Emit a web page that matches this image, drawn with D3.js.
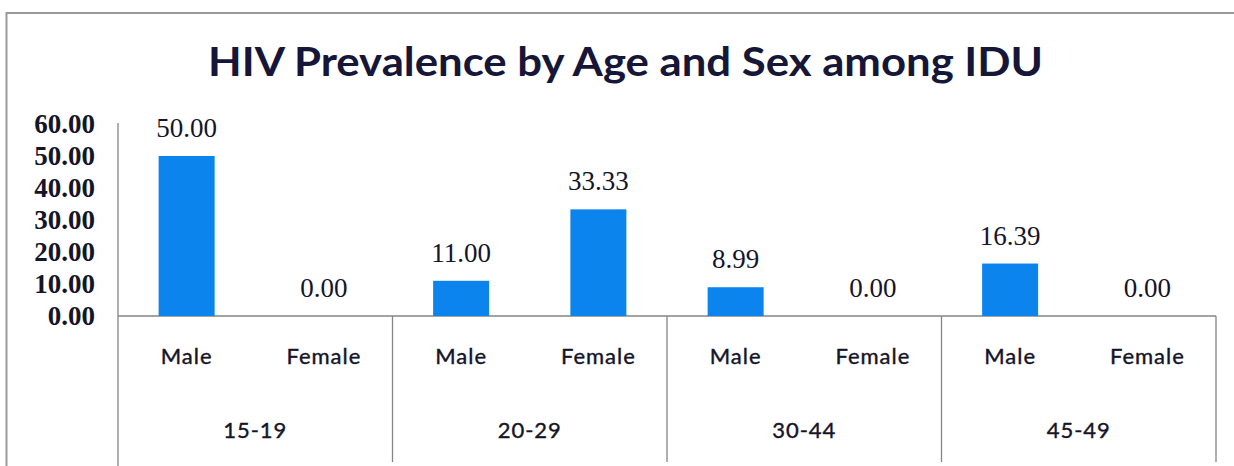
<!DOCTYPE html>
<html>
<head>
<meta charset="utf-8">
<script src="https://cdn.jsdelivr.net/npm/d3@7"></script>
<style>
  html, body { margin: 0; padding: 0; background: #fff; }
  svg { display: block; }
</style>
</head>
<body>
<svg id="chart" width="1234" height="466"></svg>
<script>
const title = "HIV Prevalence by Age and Sex among IDU";
const ageGroups = ["15-19", "20-29", "30-44", "45-49"];
const sexes = ["Male", "Female"];
const maleValues = [50.00, 11.00, 8.99, 16.39];
const femaleValues = [0.00, 33.33, 0.00, 0.00];
const yTicks = [0, 10, 20, 30, 40, 50, 60];

const data = [];
ageGroups.forEach((g, i) => {
  data.push({ group: g, sex: "Male", value: maleValues[i] });
  data.push({ group: g, sex: "Female", value: femaleValues[i] });
});

const svg = d3.select("#chart");
const textColor = "#15152a";
const lineColor = "#858585";
const barColor = "#0b84ee";

// outer frame
svg.append("path")
  .attr("d", "M6.5,466 L6.5,13 L1234,13")
  .attr("fill", "none")
  .attr("stroke", "#9a9a9a")
  .attr("stroke-width", 2);

// title
svg.append("text")
  .attr("x", 625.5)
  .attr("y", 76)
  .attr("text-anchor", "middle")
  .attr("font-family", "Lato, 'Open Sans', sans-serif")
  .attr("font-weight", 700)
  .attr("font-size", 40)
  .attr("fill", "#161638")
  .attr("textLength", 835)
  .attr("lengthAdjust", "spacingAndGlyphs")
  .text(title);

const plotLeft = 118, plotRight = 1216, plotBase = 316, plotTop = 124;

const x0 = d3.scaleBand().domain(ageGroups).range([plotLeft, plotRight]).padding(0);
const x1 = d3.scaleBand().domain(sexes).range([0, x0.bandwidth()])
  .paddingInner(0.592).paddingOuter(0.296);
const y = d3.scaleLinear().domain([0, 60]).range([plotBase, plotTop]);

// y axis
const yAxis = d3.axisLeft(y).tickValues(yTicks).tickSize(0).tickPadding(23)
  .tickFormat(d3.format(".2f"));
const yg = svg.append("g").attr("transform", `translate(${plotLeft},0)`).call(yAxis);
yg.select(".domain").remove();
yg.selectAll("text")
  .attr("font-family", "'Liberation Serif', serif")
  .attr("font-weight", 700)
  .attr("font-size", 27)
  .attr("fill", textColor);

// y axis line (extends down through category area)
svg.append("line")
  .attr("x1", plotLeft).attr("x2", plotLeft)
  .attr("y1", y(60) - 1).attr("y2", 466)
  .attr("stroke", lineColor).attr("stroke-width", 1.3);

// baseline
svg.append("line")
  .attr("x1", plotLeft).attr("x2", plotRight)
  .attr("y1", y(0)).attr("y2", y(0))
  .attr("stroke", lineColor).attr("stroke-width", 1.3);

// group separators
ageGroups.forEach((g) => {
  const xr = x0(g) + x0.bandwidth();
  svg.append("line")
    .attr("x1", xr).attr("x2", xr)
    .attr("y1", y(0)).attr("y2", 462)
    .attr("stroke", lineColor).attr("stroke-width", 1.3);
});

// bars
svg.append("g").selectAll("rect")
  .data(data)
  .join("rect")
  .attr("x", d => x0(d.group) + x1(d.sex))
  .attr("width", x1.bandwidth())
  .attr("y", d => y(d.value))
  .attr("height", d => y(0) - y(d.value))
  .attr("fill", barColor);

// value labels
svg.append("g").selectAll("text")
  .data(data)
  .join("text")
  .attr("x", d => x0(d.group) + x1(d.sex) + x1.bandwidth() / 2)
  .attr("y", d => y(d.value) - 19)
  .attr("text-anchor", "middle")
  .attr("font-family", "'Liberation Serif', serif")
  .attr("font-size", 27)
  .attr("fill", textColor)
  .text(d => d3.format(".2f")(d.value));

// sex labels
svg.append("g").selectAll("text")
  .data(data)
  .join("text")
  .attr("x", d => x0(d.group) + x1(d.sex) + x1.bandwidth() / 2)
  .attr("y", 364)
  .attr("text-anchor", "middle")
  .attr("font-family", "Lato, sans-serif")
  .attr("font-size", 22)
  .attr("letter-spacing", 1)
  .attr("stroke", textColor)
  .attr("stroke-width", 0.4)
  .attr("fill", textColor)
  .text(d => d.sex);

// age group labels
svg.append("g").selectAll("text")
  .data(ageGroups)
  .join("text")
  .attr("x", d => x0(d) + x0.bandwidth() / 2)
  .attr("y", 438)
  .attr("text-anchor", "middle")
  .attr("font-family", "Lato, sans-serif")
  .attr("font-size", 22)
  .attr("letter-spacing", 1)
  .attr("stroke", textColor)
  .attr("stroke-width", 0.4)
  .attr("fill", textColor)
  .text(d => d);
</script>
</body>
</html>
